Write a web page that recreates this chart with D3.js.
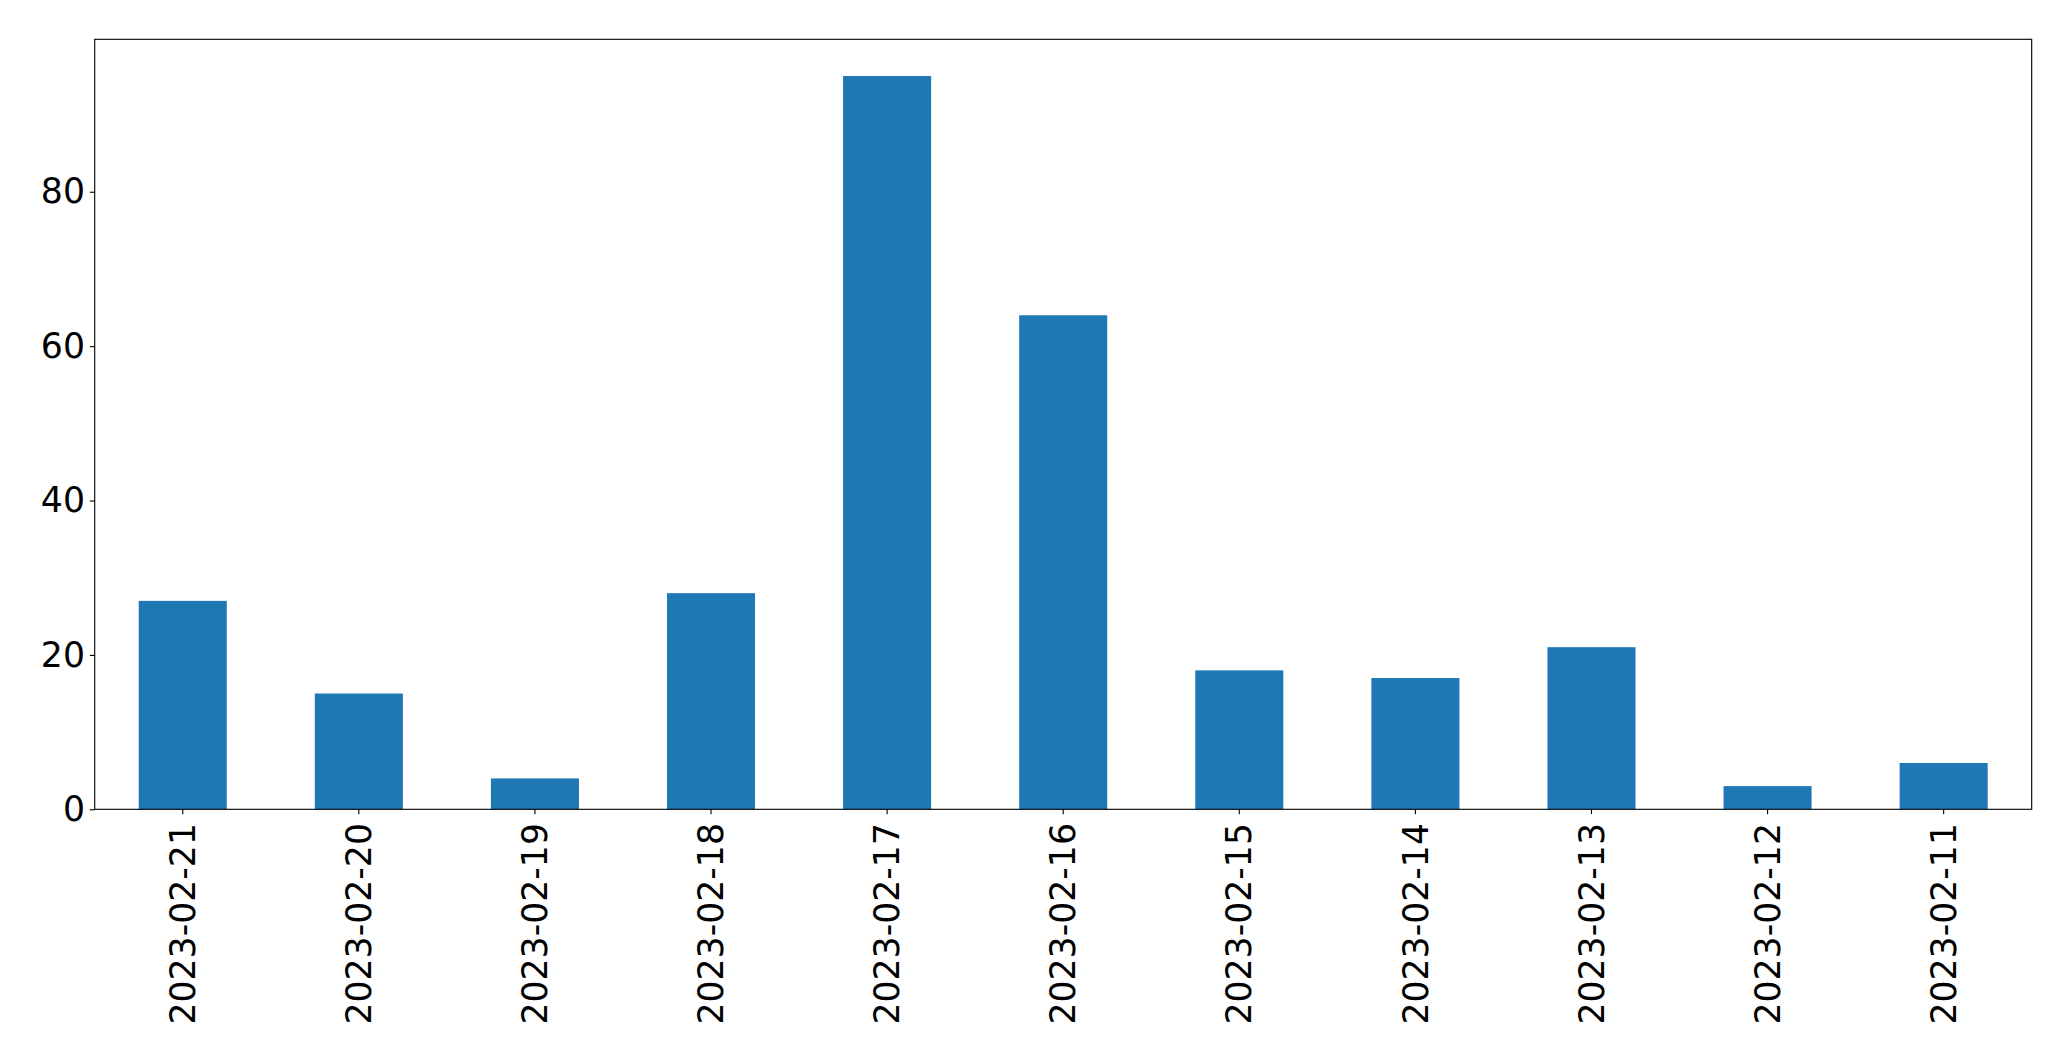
<!DOCTYPE html>
<html>
<head>
<meta charset="utf-8">
<script src="https://cdn.jsdelivr.net/npm/d3@7"></script>
<style>
  html, body { margin: 0; padding: 0; background: #fff; }
  svg { display: block; }
</style>
</head>
<body>
<script>
const categories = ["2023-02-21","2023-02-20","2023-02-19","2023-02-18","2023-02-17","2023-02-16","2023-02-15","2023-02-14","2023-02-13","2023-02-12","2023-02-11"];
const values = [27, 15, 4, 28, 95, 64, 18, 17, 21, 3, 6];
const yTicks = [0, 20, 40, 60, 80];

const W = 2071, H = 1061;
const margin = {left: 94.7, right: W - 2031.7, top: 39.3, bottom: H - 809.3};
const fontSize = 34.7;
const tickLen = 4.86, tickPad = 4.86;

const svg = d3.select("body").append("svg").attr("width", W).attr("height", H);
const iw = W - margin.left - margin.right, ih = H - margin.top - margin.bottom;
const g = svg.append("g").attr("transform", `translate(${margin.left},${margin.top})`);

const x = d3.scaleBand().domain(categories).range([0, iw]).paddingInner(0.5).paddingOuter(0.25);
const y = d3.scaleLinear().domain([0, d3.max(values) * 1.05]).range([ih, 0]);

g.selectAll("rect.bar").data(categories).join("rect")
  .attr("class", "bar")
  .attr("x", d => x(d))
  .attr("width", x.bandwidth())
  .attr("y", (d, i) => y(values[i]))
  .attr("height", (d, i) => y(0) - y(values[i]))
  .attr("fill", "#1f77b4");

const font = "'DejaVu Sans', sans-serif";

const yAxis = g.append("g").call(d3.axisLeft(y).tickValues(yTicks).tickSize(tickLen).tickPadding(tickPad).tickFormat(d3.format("d")));
yAxis.select(".domain").remove();
yAxis.selectAll("line").attr("stroke", "#000").attr("stroke-width", 1.11);
yAxis.selectAll("text").attr("font-family", font).attr("font-size", fontSize).attr("fill", "#000");

const xAxis = g.append("g").attr("transform", `translate(0,${ih})`)
  .call(d3.axisBottom(x).tickSize(tickLen).tickPadding(tickPad));
xAxis.select(".domain").remove();
xAxis.selectAll("line").attr("stroke", "#000").attr("stroke-width", 1.11);
xAxis.selectAll("text")
  .attr("font-family", font).attr("font-size", fontSize).attr("fill", "#000")
  .attr("transform", `translate(0,${tickLen + tickPad + 4}) rotate(-90)`)
  .attr("x", 0).attr("y", 0).attr("dy", "0.35em")
  .attr("text-anchor", "end");

g.append("rect").attr("x", 0).attr("y", 0).attr("width", iw).attr("height", ih)
  .attr("fill", "none").attr("stroke", "#000").attr("stroke-width", 1.11);
</script>
</body>
</html>
